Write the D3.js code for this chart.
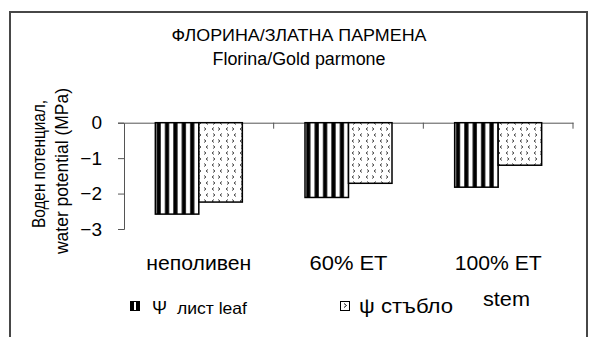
<!DOCTYPE html>
<html>
<head>
<meta charset="utf-8">
<script src="https://cdn.jsdelivr.net/npm/d3@7/dist/d3.min.js"></script>
<style>
  html, body { margin: 0; padding: 0; background: #fff; }
  svg { display: block; font-family: "Liberation Sans", Arial, sans-serif; }
</style>
</head>
<body>
<svg id="chart" width="593" height="337"></svg>
<script>
// Water potential by irrigation treatment
const categories = ["неполивен", "60% ET", "100% ET"];
const leafValues = [-2.58, -2.11, -1.82];
const stemValues = [-2.24, -1.71, -1.20];
const yTicks = [0, -1, -2, -3];
const titleLines = ["ФЛОРИНА/ЗЛАТНА ПАРМЕНА", "Florina/Gold parmone"];
const yLabelLines = ["Воден потенциал,", "water potential (MPa)"];
const legendLeaf = ["Ψ", "лист leaf"];
const legendStem = ["ψ стъбло", "stem"];

const svg = d3.select("#chart");
const defs = svg.append("defs");

// frame around the chart area
svg.append("path")
  .attr("d", "M10,340 V12 H587 V340")
  .attr("fill", "none")
  .attr("stroke", "#474747")
  .attr("stroke-width", 2);

const plot = { left: 124, right: 573, top: 122.7, bottom: 229 };

const x = d3.scaleBand().domain(categories).range([plot.left, plot.right]);
const y = d3.scaleLinear().domain([0, -3]).range([plot.top, plot.bottom]);
const barW = 43.5;

// chevron pattern for the stem series
const dots = defs.append("pattern")
  .attr("id", "stemDots")
  .attr("patternUnits", "userSpaceOnUse")
  .attr("width", 14).attr("height", 12);
dots.append("rect").attr("width", 14).attr("height", 12).attr("fill", "#fff");
["M3,1.5 L5,3 L3,4.5", "M12,1.5 L10,3 L12,4.5", "M8,7.5 L10,9 L8,10.5", "M4,7.5 L2,9 L4,10.5"]
  .forEach(d => dots.append("path").attr("d", d).attr("fill", "none")
    .attr("stroke", "#333").attr("stroke-width", 0.9));

// vertical stripe pattern for the leaf series, aligned per bar
function stripePattern(id, x0) {
  const p = defs.append("pattern")
    .attr("id", id)
    .attr("patternUnits", "userSpaceOnUse")
    .attr("x", x0).attr("y", 0)
    .attr("width", 8.4).attr("height", 10);
  p.append("rect").attr("width", 8.4).attr("height", 10).attr("fill", "#fff");
  p.append("rect").attr("x", 1.2).attr("width", 4.2).attr("height", 10).attr("fill", "#000");
}

// zero line with category separators
const xAxis = d3.axisTop(x).tickSize(0).tickFormat("");
svg.append("g").attr("transform", `translate(0,${y(0)})`).call(xAxis)
  .call(g => g.select(".domain").attr("stroke", "#555").attr("stroke-width", 1));
const sep = categories.map(c => x(c) + x.bandwidth());
svg.selectAll("line.sep").data(sep).enter().append("line")
  .attr("x1", d => d).attr("x2", d => d)
  .attr("y1", y(0)).attr("y2", y(0) + 6)
  .attr("stroke", "#555");

// bars
categories.forEach((c, i) => {
  const cx = x(c) + x.bandwidth() / 2;
  const lx = cx - barW;
  stripePattern("leaf" + i, lx);
  svg.append("rect")
    .attr("x", lx).attr("y", y(0))
    .attr("width", barW).attr("height", y(leafValues[i]) - y(0))
    .attr("fill", `url(#leaf${i})`)
    .attr("stroke", "#000").attr("stroke-width", 1.5);
  svg.append("rect")
    .attr("x", cx).attr("y", y(0))
    .attr("width", barW).attr("height", y(stemValues[i]) - y(0))
    .attr("fill", "url(#stemDots)")
    .attr("stroke", "#000").attr("stroke-width", 1.5);
});

// y axis
const yAxis = d3.axisLeft(y).tickValues(yTicks).tickSize(6).tickPadding(16).tickFormat(d3.format("d"));
svg.append("g").attr("transform", `translate(${plot.left},0)`).call(yAxis)
  .call(g => g.select(".domain").attr("stroke", "#555"))
  .call(g => g.selectAll(".tick line").attr("stroke", "#555"))
  .call(g => g.selectAll(".tick text").attr("font-size", 19).attr("fill", "#000")
    .attr("font-family", "Liberation Sans, Arial, sans-serif"));

// category labels
const catWidths = [105, 78, 87];
svg.selectAll("text.cat").data(categories).enter().append("text")
  .attr("x", d => x(d) + x.bandwidth() / 2)
  .attr("y", 270)
  .attr("text-anchor", "middle")
  .attr("font-size", 20)
  .attr("textLength", (d, i) => catWidths[i])
  .attr("lengthAdjust", "spacingAndGlyphs")
  .text(d => d);

// titles
svg.selectAll("text.title").data(titleLines).enter().append("text")
  .attr("x", 299).attr("y", (d, i) => i === 0 ? 40.5 : 65)
  .attr("text-anchor", "middle")
  .attr("font-size", (d, i) => i === 0 ? 16.5 : 17.5)
  .attr("textLength", (d, i) => i === 0 ? 255 : 173)
  .attr("lengthAdjust", "spacingAndGlyphs")
  .text(d => d);

// y axis title
const yLabLen = [128, 166];
svg.selectAll("text.ylab").data(yLabelLines).enter().append("text")
  .attr("transform", (d, i) => `translate(${i === 0 ? 45 : 68},${i === 0 ? 164 : 171}) rotate(-90)`)
  .attr("text-anchor", "middle")
  .attr("font-size", 17.5)
  .attr("textLength", (d, i) => yLabLen[i])
  .attr("lengthAdjust", "spacingAndGlyphs")
  .text(d => d);

// legend
const lg = svg.append("g");
lg.append("rect").attr("x", 130).attr("y", 301).attr("width", 10).attr("height", 10).attr("fill", "#000");
lg.append("rect").attr("x", 134).attr("y", 302).attr("width", 2).attr("height", 8).attr("fill", "#fff");
lg.append("text").attr("x", 152).attr("y", 314).attr("font-size", 18).text(legendLeaf[0]);
lg.append("text").attr("x", 177).attr("y", 314).attr("font-size", 16.5)
  .attr("textLength", 70).attr("lengthAdjust", "spacingAndGlyphs").text(legendLeaf[1]);
lg.append("rect").attr("x", 340.5).attr("y", 301.5).attr("width", 9).attr("height", 9)
  .attr("fill", "#fff").attr("stroke", "#000").attr("stroke-width", 1);
lg.append("path").attr("d", "M344,303.5 L346.5,305.5 L344,307.5").attr("fill", "none").attr("stroke", "#000").attr("stroke-width", 0.9);
lg.append("text").attr("x", 359).attr("y", 313).attr("font-size", 21)
  .attr("textLength", 94).attr("lengthAdjust", "spacingAndGlyphs").text(legendStem[0]);
lg.append("text").attr("x", 483).attr("y", 306).attr("font-size", 20.5)
  .attr("textLength", 47).attr("lengthAdjust", "spacingAndGlyphs").text(legendStem[1]);
</script>
</body>
</html>
